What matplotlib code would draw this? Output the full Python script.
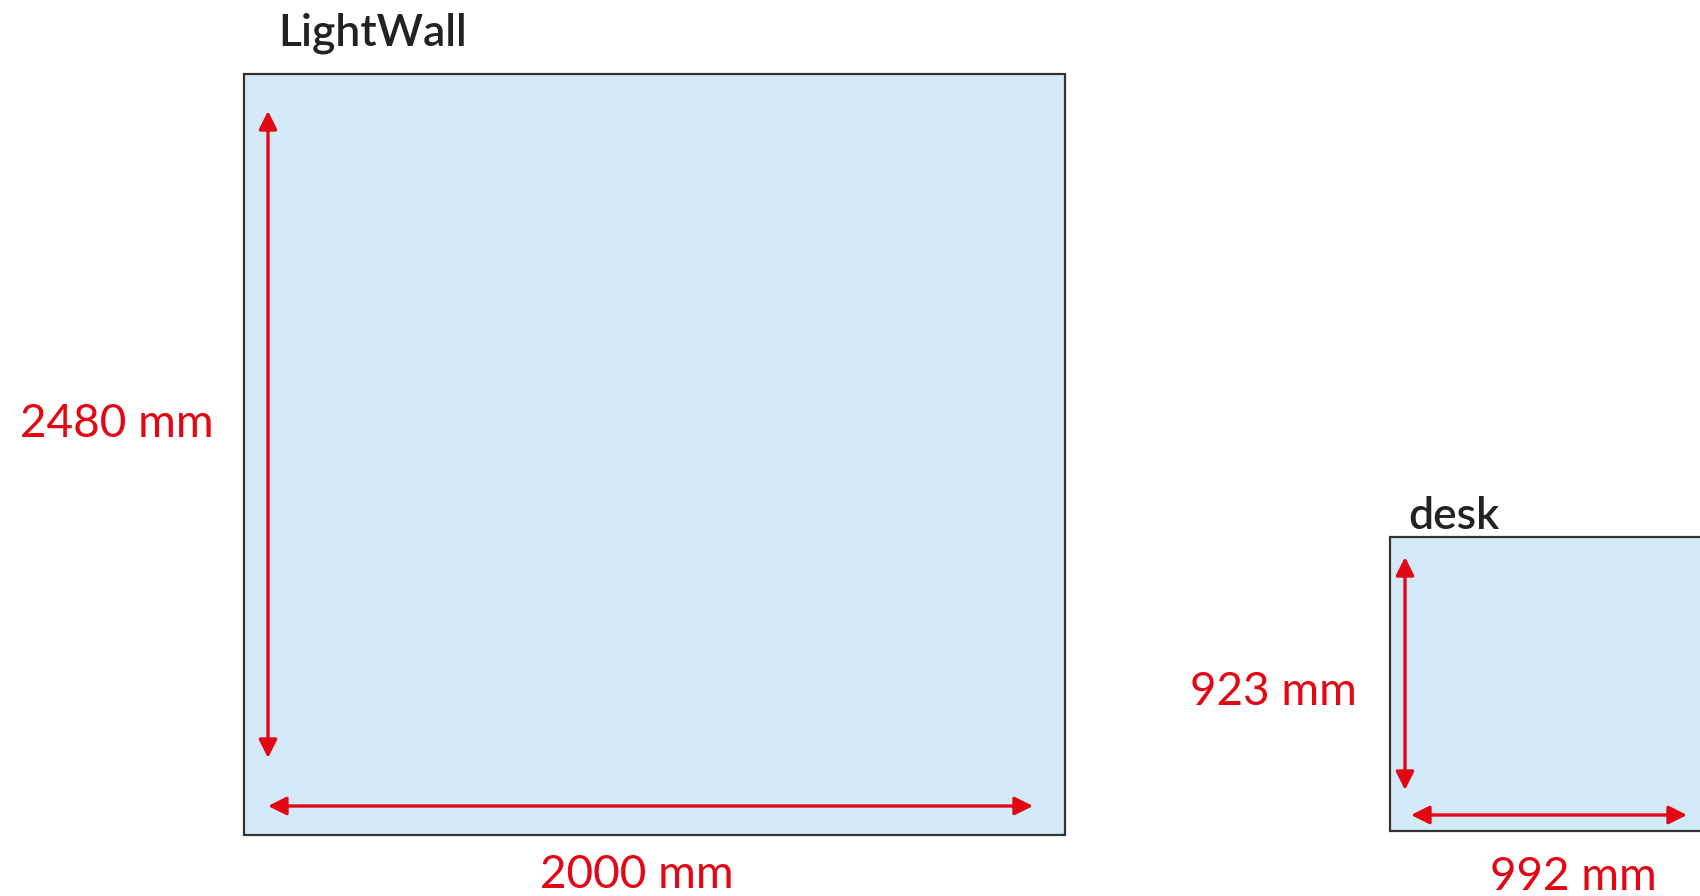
import matplotlib.pyplot as plt
from matplotlib.patches import Rectangle

# dimension data
names = ['LightWall', 'desk']
width_mm = [2000, 992]
height_mm = [2480, 923]

# page layout (pixels): box left, top, right, bottom
boxes = [(244, 74, 1065, 835), (1390, 537, 1720, 831)]
title_pos = [(278, 46), (1408, 529)]
vert_arrow = [(268, 111, 758), (1405, 557, 790)]
horiz_arrow = [(806, 268, 1033), (815, 1411, 1687)]
height_label = [(214, 424), (1357, 692)]
width_label = [(637, 875), (1573, 877)]

RED = '#E30613'
FILL = '#D4EAF8'

plt.rcParams['font.family'] = ['Lato', 'DejaVu Sans']

fig = plt.figure(figsize=(17, 8.96), dpi=100)
ax = fig.add_axes([0, 0, 1, 1])
ax.set_xlim(0, 1700)
ax.set_ylim(896, 0)
ax.axis('off')

arrow = dict(arrowstyle='<|-|>,head_length=1.1,head_width=0.55', color=RED, lw=2.4,
             shrinkA=0, shrinkB=0)

for i in range(len(names)):
    x0, y0, x1, y1 = boxes[i]
    ax.add_patch(Rectangle((x0, y0), x1 - x0, y1 - y0, facecolor=FILL,
                           edgecolor='#333333', lw=1.6))
    ax.text(title_pos[i][0], title_pos[i][1], names[i], fontsize=32, color='#222222',
            va='baseline', ha='left', fontweight='semibold')
    vx, vt, vb = vert_arrow[i]
    ax.annotate('', xy=(vx, vt), xytext=(vx, vb), arrowprops=arrow)
    hy, hl, hr = horiz_arrow[i]
    ax.annotate('', xy=(hl, hy), xytext=(hr, hy), arrowprops=arrow)
    ax.text(height_label[i][0], height_label[i][1], f'{height_mm[i]} mm', fontsize=33,
            color=RED, ha='right', va='center')
    ax.text(width_label[i][0], width_label[i][1], f'{width_mm[i]} mm', fontsize=33,
            color=RED, ha='center', va='center')

fig.savefig('out.png', dpi=100)
